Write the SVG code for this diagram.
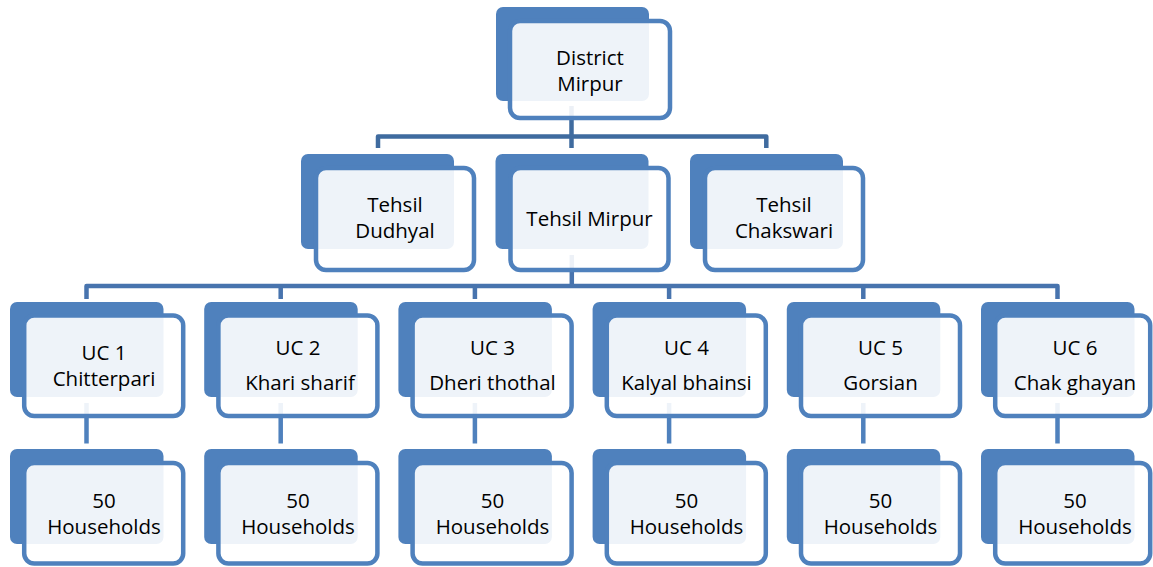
<svg xmlns="http://www.w3.org/2000/svg" width="1153" height="567" viewBox="0 0 1153 567">
<style>
.bk{fill:#4F81BD}
.fr{fill:#FFFFFF;fill-opacity:0.9;stroke:#4F81BD;stroke-width:4.5}
.c1{fill:none;stroke:#3F6B9F;stroke-width:4.5;stroke-linejoin:round}
.c2{fill:none;stroke:#4874AE;stroke-width:4.5;stroke-linejoin:round}
.c3{fill:none;stroke:#4F81BD;stroke-width:4.5}
text{font-family:"Open Sans","Noto Sans","Liberation Sans",sans-serif;font-size:20.5px;fill:#000;text-anchor:middle}
</style>
<rect width="1153" height="567" fill="#FFFFFF"/>
<g id="connectors">
<path class="c1" d="M378,148 V136.5 H766.3 V148"/>
<path class="c1" d="M571.5,106 V148"/>
<path class="c2" d="M86.5,299 V286 H1057.5 V299"/>
<path class="c2" d="M571.8,255 V286"/>
<path class="c2" d="M280.7,286 V299 M474.9,286 V299 M669.1,286 V299 M863.3,286 V299"/>
<path class="c3" d="M86.5,403 V443.5 M280.7,403 V443.5 M474.9,403 V443.5 M669.1,403 V443.5 M863.3,403 V443.5 M1057.5,403 V443.5"/>
</g>
<g id="district">
<rect class="bk" x="496" y="7" width="153" height="94" rx="7"/>
<rect class="fr" x="510" y="21" width="160" height="97" rx="10"/>
<text x="590" y="65">District</text>
<text x="590" y="91">Mirpur</text>
</g>
<g id="tehsil-dudhyal">
<rect class="bk" x="301" y="154" width="153" height="95" rx="7"/>
<rect class="fr" x="316" y="168" width="158" height="102" rx="10"/>
<text x="395" y="212">Tehsil</text>
<text x="395" y="238">Dudhyal</text>
</g>
<g id="tehsil-mirpur">
<rect class="bk" x="495.5" y="154" width="153" height="95" rx="7"/>
<rect class="fr" x="510.5" y="168" width="158" height="102" rx="10"/>
<text x="589.5" y="226">Tehsil Mirpur</text>
</g>
<g id="tehsil-chakswari">
<rect class="bk" x="690" y="154" width="153" height="95" rx="7"/>
<rect class="fr" x="705" y="168" width="158" height="102" rx="10"/>
<text x="784" y="212">Tehsil</text>
<text x="784" y="238">Chakswari</text>
</g>
<g id="uc1">
<rect class="bk" x="10" y="302" width="153.5" height="95" rx="7"/>
<rect class="fr" x="24.2" y="315.5" width="159" height="100.5" rx="10"/>
<text x="104" y="360">UC 1</text>
<text x="104" y="386">Chitterpari</text>
</g>
<g id="uc2">
<rect class="bk" x="204.2" y="302" width="153.5" height="95" rx="7"/>
<rect class="fr" x="218.4" y="315.5" width="159" height="100.5" rx="10"/>
<text x="298" y="355">UC 2</text>
<text x="300" y="390">Khari sharif</text>
</g>
<g id="uc3">
<rect class="bk" x="398.4" y="302" width="153.5" height="95" rx="7"/>
<rect class="fr" x="412.6" y="315.5" width="159" height="100.5" rx="10"/>
<text x="492.5" y="355">UC 3</text>
<text x="492.5" y="390">Dheri thothal</text>
</g>
<g id="uc4">
<rect class="bk" x="592.6" y="302" width="153.5" height="95" rx="7"/>
<rect class="fr" x="606.8" y="315.5" width="159" height="100.5" rx="10"/>
<text x="686.5" y="355">UC 4</text>
<text x="686.5" y="390">Kalyal bhainsi</text>
</g>
<g id="uc5">
<rect class="bk" x="786.8" y="302" width="153.5" height="95" rx="7"/>
<rect class="fr" x="801" y="315.5" width="159" height="100.5" rx="10"/>
<text x="880.5" y="355">UC 5</text>
<text x="880.5" y="390">Gorsian</text>
</g>
<g id="uc6">
<rect class="bk" x="981" y="302" width="153.5" height="95" rx="7"/>
<rect class="fr" x="995.2" y="315.5" width="155" height="100.5" rx="10"/>
<text x="1075" y="355">UC 6</text>
<text x="1075" y="390">Chak ghayan</text>
</g>
<g id="hh1">
<rect class="bk" x="10" y="449" width="153.5" height="95" rx="7"/>
<rect class="fr" x="24.2" y="463" width="159" height="100.5" rx="10"/>
<text x="104" y="508">50</text>
<text x="104" y="534">Households</text>
</g>
<g id="hh2">
<rect class="bk" x="204.2" y="449" width="153.5" height="95" rx="7"/>
<rect class="fr" x="218.4" y="463" width="159" height="100.5" rx="10"/>
<text x="298" y="508">50</text>
<text x="298" y="534">Households</text>
</g>
<g id="hh3">
<rect class="bk" x="398.4" y="449" width="153.5" height="95" rx="7"/>
<rect class="fr" x="412.6" y="463" width="159" height="100.5" rx="10"/>
<text x="492.5" y="508">50</text>
<text x="492.5" y="534">Households</text>
</g>
<g id="hh4">
<rect class="bk" x="592.6" y="449" width="153.5" height="95" rx="7"/>
<rect class="fr" x="606.8" y="463" width="159" height="100.5" rx="10"/>
<text x="686.5" y="508">50</text>
<text x="686.5" y="534">Households</text>
</g>
<g id="hh5">
<rect class="bk" x="786.8" y="449" width="153.5" height="95" rx="7"/>
<rect class="fr" x="801" y="463" width="159" height="100.5" rx="10"/>
<text x="880.5" y="508">50</text>
<text x="880.5" y="534">Households</text>
</g>
<g id="hh6">
<rect class="bk" x="981" y="449" width="153.5" height="95" rx="7"/>
<rect class="fr" x="995.2" y="463" width="155" height="100.5" rx="10"/>
<text x="1075" y="508">50</text>
<text x="1075" y="534">Households</text>
</g>
</svg>
